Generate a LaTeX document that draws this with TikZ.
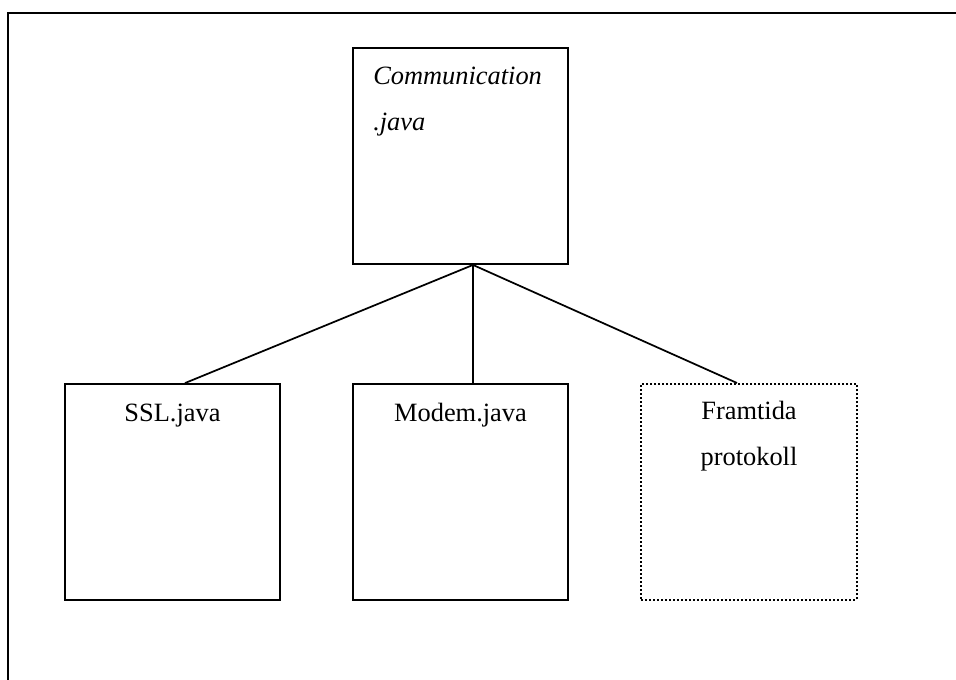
\documentclass[tikz,border=0pt]{standalone}
\usepackage{fontspec}
\setmainfont{Liberation Serif}
\usetikzlibrary{calc}
\begin{document}
\begin{tikzpicture}[x=0.75pt,y=-0.75pt,
  box/.style={draw,line width=1.4pt,inner sep=0pt,minimum width=161.5pt,minimum height=162pt},
  futbox/.style={box,line width=1.5pt,dash pattern=on 1.5pt off 1.5pt},
  link/.style={line width=1.3pt},
  lbl/.style={inner sep=0pt,font=\fontsize{19.8}{34.5}\selectfont},
  frame/.style={line width=1.8pt}]
\useasboundingbox (0,0) rectangle (956,679);
% page frame (open at right and bottom)
\coordinate (fbl) at (8,680);
\coordinate (ftl) at (8,13);
\coordinate (ftr) at (957,13);
\draw[frame] (fbl) -- (ftl) -- (ftr);
% classes
\node[box] (comm) at (460.5,156) {};
\node[box] (ssl) at (172.5,492) {};
\node[box] (modem) at (460.5,492) {};
\node[futbox] (fut) at (749,492) {};
% labels
\node[lbl,anchor=base west] (commtxt) at (373,84)
  {\begin{tabular}[t]{@{}l@{}}\itshape Communication\\\itshape .java\end{tabular}};
\node[lbl,anchor=base] (ssltxt) at (172.5,421) {SSL.java};
\node[lbl,anchor=base] (modemtxt) at (460.5,421) {Modem.java};
\node[lbl,anchor=base] (futtxt) at (749,419)
  {\begin{tabular}[t]{@{}c@{}}Framtida\\protokoll\end{tabular}};
% inheritance links
\coordinate (apex) at ($(comm.south)+(12.5,0)$);
\draw[link] (apex) -- ($(ssl.north)+(12.5,0)$);
\draw[link] (apex) -- ($(modem.north)+(12.5,0)$);
\draw[link] (apex) -- ($(fut.north)+(-12,0)$);
\end{tikzpicture}
\end{document}
